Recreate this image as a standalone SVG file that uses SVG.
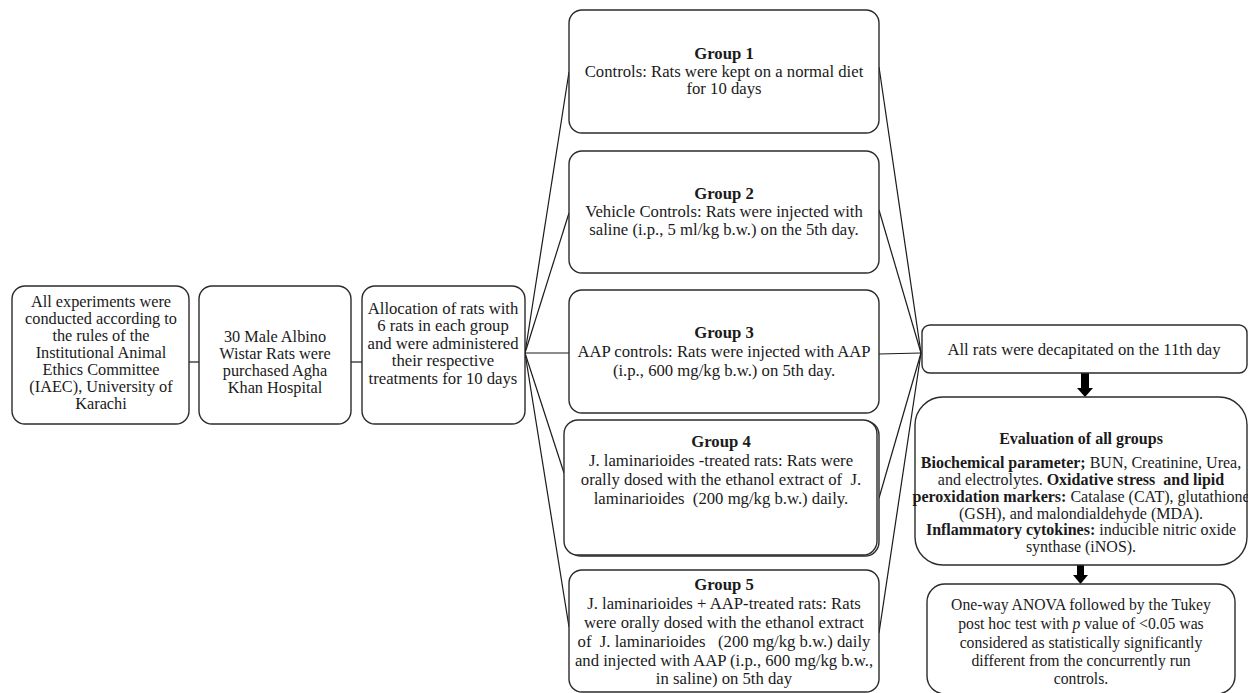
<svg xmlns="http://www.w3.org/2000/svg" width="1248" height="693" viewBox="0 0 1248 693">
<style>
.box{fill:#fff;stroke:#2b2b2b;stroke-width:1.4}
.ln{stroke:#1a1a1a;stroke-width:1.2;fill:none}
text{font-family:"Liberation Serif","Times New Roman",serif;font-size:16.7px;fill:#1a1a1a;text-anchor:middle;white-space:pre}
.b{font-weight:bold}
.sm text{font-size:16.3px}
.ev text{font-size:16px}
.st text{font-size:15.7px}
.arr{fill:#000}
</style>
<rect width="1248" height="693" fill="#fff"/>
<g id="connectors">
<line class="ln" x1="189" y1="362" x2="199" y2="362"/>
<line class="ln" x1="351" y1="362" x2="362" y2="362"/>
<line class="ln" x1="525" y1="353" x2="569" y2="72"/>
<line class="ln" x1="525" y1="353" x2="569" y2="213"/>
<line class="ln" x1="525" y1="353" x2="569" y2="353"/>
<line class="ln" x1="525" y1="353" x2="564" y2="473"/>
<line class="ln" x1="525" y1="353" x2="569" y2="627"/>
<line class="ln" x1="879" y1="67" x2="921" y2="353"/>
<line class="ln" x1="879" y1="210" x2="921" y2="353"/>
<line class="ln" x1="879" y1="354" x2="921" y2="353"/>
<line class="ln" x1="879" y1="498" x2="921" y2="353"/>
<line class="ln" x1="879" y1="633" x2="921" y2="353"/>
<rect class="arr" x="1081" y="373" width="8" height="16"/>
<polygon class="arr" points="1077,388 1093,388 1085,397"/>
<rect class="arr" x="1077" y="565" width="7" height="11"/>
<polygon class="arr" points="1073,575 1088,575 1080.5,584"/>
</g>
<g id="n_ethics" class="sm">
<rect class="box" x="12" y="286" width="177" height="138" rx="13"/>
<text x="101" y="307">All experiments were</text>
<text x="101" y="324">conducted according to</text>
<text x="101" y="341">the rules of the</text>
<text x="101" y="358">Institutional Animal</text>
<text x="101" y="375">Ethics Committee</text>
<text x="101" y="392">(IAEC), University of</text>
<text x="101" y="409">Karachi</text>
</g>
<g id="n_rats" class="sm">
<rect class="box" x="199" y="286" width="152" height="138" rx="13"/>
<text x="275" y="342">30 Male Albino</text>
<text x="275" y="359">Wistar Rats were</text>
<text x="275" y="376">purchased Agha</text>
<text x="275" y="393">Khan Hospital</text>
</g>
<g id="n_alloc">
<rect class="box" x="362" y="286" width="163" height="138" rx="13"/>
<text x="443" y="314">Allocation of rats with</text>
<text x="443" y="331">6 rats in each group</text>
<text x="443" y="349">and were administered</text>
<text x="443" y="366">their respective</text>
<text x="443" y="384">treatments for 10 days</text>
</g>
<g id="n_g1">
<rect class="box" x="569" y="10" width="310" height="123" rx="13"/>
<text x="724" y="59" class="b">Group 1</text>
<text x="724" y="77">Controls: Rats were kept on a normal diet</text>
<text x="724" y="94">for 10 days</text>
</g>
<g id="n_g2">
<rect class="box" x="569" y="151" width="310" height="122" rx="13"/>
<text x="724" y="199" class="b">Group 2</text>
<text x="724" y="217">Vehicle Controls: Rats were injected with</text>
<text x="724" y="235">saline (i.p., 5 ml/kg b.w.) on the 5th day.</text>
</g>
<g id="n_g3">
<rect class="box" x="569" y="290" width="310" height="123" rx="13"/>
<text x="724" y="338" class="b">Group 3</text>
<text x="724" y="357">AAP controls: Rats were injected with AAP</text>
<text x="724" y="376">(i.p., 600 mg/kg b.w.) on 5th day.</text>
</g>
<g id="n_g4">
<rect class="box" x="567" y="421" width="312" height="135" rx="14"/>
<rect class="box" x="564" y="420" width="313" height="135" rx="14"/>
<text x="721" y="447" class="b">Group 4</text>
<text x="721" y="466">J. laminarioides -treated rats: Rats were</text>
<text x="721" y="485">orally dosed with the ethanol extract of  J.</text>
<text x="721" y="504">laminarioides  (200 mg/kg b.w.) daily.</text>
</g>
<g id="n_g5">
<rect class="box" x="569" y="570" width="310" height="122" rx="13"/>
<text x="724" y="590" class="b">Group 5</text>
<text x="724" y="609">J. laminarioides + AAP-treated rats: Rats</text>
<text x="724" y="628">were orally dosed with the ethanol extract</text>
<text x="724" y="647">of  J. laminarioides   (200 mg/kg b.w.) daily</text>
<text x="724" y="666">and injected with AAP (i.p., 600 mg/kg b.w.,</text>
<text x="724" y="684">in saline) on 5th day</text>
</g>
<g id="n_decap">
<rect class="box" x="922" y="325" width="325" height="48" rx="8"/>
<text x="1084" y="355">All rats were decapitated on the 11th day</text>
</g>
<g id="n_eval" class="ev">
<rect class="box" x="915" y="397" width="332" height="168" rx="28"/>
<text x="1081" y="444" class="b">Evaluation of all groups</text>
<text x="1081" y="468"><tspan class="b">Biochemical parameter;</tspan> BUN, Creatinine, Urea,</text>
<text x="1081" y="485">and electrolytes. <tspan class="b">Oxidative stress  and lipid</tspan></text>
<text x="1081" y="502"><tspan class="b">peroxidation markers:</tspan> Catalase (CAT), glutathione</text>
<text x="1081" y="519">(GSH), and malondialdehyde (MDA).</text>
<text x="1081" y="535"><tspan class="b">Inflammatory cytokines:</tspan> inducible nitric oxide</text>
<text x="1081" y="552">synthase (iNOS).</text>
</g>
<g id="n_stats" class="st">
<rect class="box" x="927" y="584" width="308" height="110" rx="18"/>
<text x="1081" y="610">One-way ANOVA followed by the Tukey</text>
<text x="1081" y="629">post hoc test with <tspan font-style="italic">p</tspan> value of &lt;0.05 was</text>
<text x="1081" y="648">considered as statistically significantly</text>
<text x="1081" y="666">different from the concurrently run</text>
<text x="1081" y="684">controls.</text>
</g>
</svg>
